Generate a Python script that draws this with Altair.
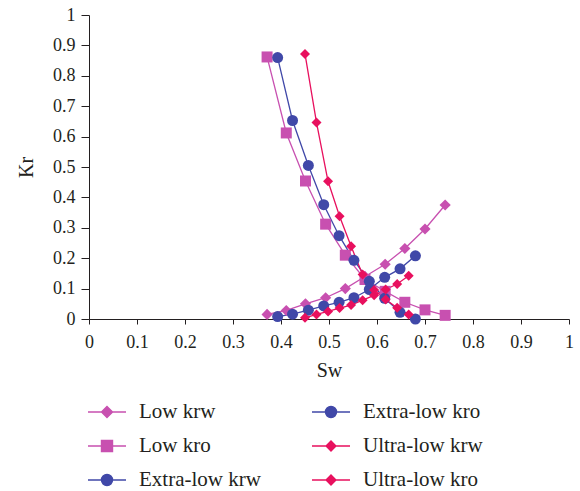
import altair as alt
import pandas as pd

# ---- data ----
sw_low = [0.371, 0.411, 0.451, 0.493, 0.534, 0.575, 0.617, 0.658, 0.700, 0.742]
low_krw = [0.015, 0.028, 0.050, 0.070, 0.100, 0.140, 0.180, 0.232, 0.296, 0.375]
low_kro = [0.862, 0.612, 0.454, 0.312, 0.210, 0.130, 0.091, 0.055, 0.030, 0.012]

sw_extra = [0.393, 0.424, 0.457, 0.489, 0.521, 0.552, 0.584, 0.616, 0.648, 0.680]
extra_krw = [0.008, 0.016, 0.029, 0.043, 0.055, 0.070, 0.097, 0.137, 0.165, 0.208]
extra_kro = [0.860, 0.653, 0.505, 0.376, 0.274, 0.193, 0.124, 0.068, 0.022, 0.000]

sw_ultra = [0.450, 0.474, 0.498, 0.522, 0.546, 0.570, 0.594, 0.618, 0.642, 0.666]
ultra_krw = [0.004, 0.015, 0.025, 0.036, 0.046, 0.062, 0.078, 0.097, 0.115, 0.142]
ultra_kro = [0.872, 0.646, 0.453, 0.338, 0.239, 0.146, 0.095, 0.064, 0.037, 0.015]

tick_values = [0, 0.1, 0.2, 0.3, 0.4, 0.5, 0.6, 0.7, 0.8, 0.9, 1]

# legend order (column-major in a 2-column legend)
series_order = ["Low krw", "Low kro", "Extra-low krw", "Extra-low kro", "Ultra-low krw", "Ultra-low kro"]
series_colors = ["#C850B0", "#C850B0", "#4048A8", "#4048A8", "#E8105E", "#E8105E"]
series_marker = ["diamond", "square", "circle", "circle", "diamond", "diamond"]

PINK_D = "M-1,0H-0.29L0,-0.29L0.29,0H1M0.29,0L0,0.29L-0.29,0Z"
SQ = "M-1,0H-0.29V-0.29H0.29V0H1M0.29,0V0.29H-0.29V0Z"
CIRC = "M-1,0H-0.29A0.29,0.29,0,0,1,0.29,0H1M0.29,0A0.29,0.29,0,0,1,-0.29,0Z"
RED_D = "M-1,0H-0.26L0,-0.26L0.26,0H1M0.26,0L0,0.26L-0.26,0Z"
legend_shapes = [PINK_D, SQ, CIRC, CIRC, RED_D, RED_D]

sources = {
    "Low krw": (sw_low, low_krw),
    "Low kro": (sw_low, low_kro),
    "Extra-low krw": (sw_extra, extra_krw),
    "Extra-low kro": (sw_extra, extra_kro),
    "Ultra-low krw": (sw_ultra, ultra_krw),
    "Ultra-low kro": (sw_ultra, ultra_kro),
}
rows = []
for name, (xs, ys) in sources.items():
    marker = series_marker[series_order.index(name)]
    for i, (x, y) in enumerate(zip(xs, ys)):
        rows.append({"series": name, "Sw": x, "Kr": y, "idx": i, "marker": marker})
df = pd.DataFrame(rows)

FONT = "Liberation Serif"
color_scale = alt.Scale(domain=series_order, range=series_colors)
legend_cfg = alt.Legend(orient="none", legendX=-2, legendY=377, columns=2,
                        symbolSize=1444, symbolStrokeWidth=1.4,
                        labelFont=FONT, labelFontSize=21, labelColor="#231f20",
                        labelOffset=12, rowPadding=4, columnPadding=48,
                        padding=0, labelLimit=300)
col = alt.Color("series:N", scale=color_scale, title=None, legend=legend_cfg)

x_enc = alt.X("Sw:Q", scale=alt.Scale(domain=[0, 1], nice=False),
              axis=alt.Axis(values=tick_values, tickCount=11, format="~g", title="Sw",
                            labelOverlap=False, labelFlush=False))
y_enc = alt.Y("Kr:Q", scale=alt.Scale(domain=[0, 1], nice=False),
              axis=alt.Axis(values=tick_values, tickCount=11, format="~g", title="Kr",
                            labelOverlap=False, labelFlush=False))

base = alt.Chart(df)

lines = base.mark_line(strokeWidth=1.3).encode(
    x=x_enc, y=y_enc, color=col, detail="series:N", order="idx:Q",
)

def pts(marker, size, series_filter):
    return base.transform_filter(series_filter).mark_point(
        filled=True, opacity=1, shape=marker, size=size
    ).encode(x="Sw:Q", y="Kr:Q", color=col)

p_pink_d = pts("diamond", 125, "datum.series == 'Low krw'")
p_sq = pts("square", 121, "datum.series == 'Low kro'")
p_circ = pts("circle", 121, "datum.marker == 'circle'")
p_red_d = pts("diamond", 100, "datum.series == 'Ultra-low krw' || datum.series == 'Ultra-low kro'")

legend_layer = base.transform_filter("false").mark_point(filled=True, opacity=1).encode(
    x="Sw:Q", y="Kr:Q",
    color=col,
    stroke=alt.Stroke("series:N", scale=color_scale, title=None, legend=legend_cfg),
    shape=alt.Shape("series:N", scale=alt.Scale(domain=series_order, range=legend_shapes),
                    title=None, legend=legend_cfg),
)

chart = alt.layer(lines, p_pink_d, p_sq, p_circ, p_red_d, legend_layer).properties(
    width=480, height=304,
    autosize=alt.AutoSizeParams(type="none"),
    padding={"left": 89, "top": 15, "right": 11, "bottom": 172},
).configure_view(stroke=None).configure_axis(
    grid=False, domainColor="#231f20", tickColor="#231f20", tickSize=5,
    labelFont=FONT, labelFontSize=18, labelColor="#231f20",
    labelOverlap=False, labelFlush=False,
    titleFont=FONT, titleFontSize=20, titleColor="#231f20", titleFontWeight="normal",
).configure_axisX(labelPadding=9, titlePadding=9).configure_axisY(
    tickSize=8, labelPadding=6, titlePadding=16)

chart.save("out.html", embed_options={"renderer": "svg", "actions": False})
